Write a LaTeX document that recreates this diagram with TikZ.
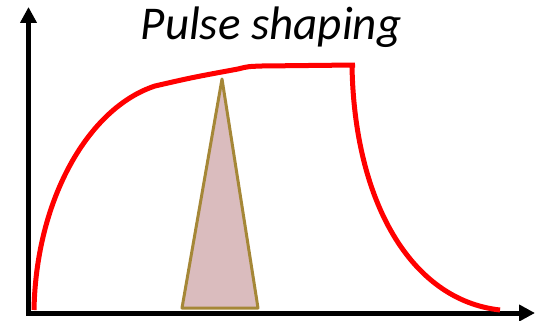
\documentclass[tikz,border=0pt]{standalone}
\usepackage{fontspec}
\newfontfamily\titlefont{Carlito}
\usetikzlibrary{arrows.meta}

\begin{document}
\begin{tikzpicture}[
    x=1pt, y=-1pt,
    axis/.style={line width=5pt, -{Triangle[length=16pt,width=16pt]}},
    pulse/.style={line width=5pt, red, line join=round},
    window/.style={draw={rgb,255:red,165;green,135;blue,55}, fill={rgb,255:red,218;green,188;blue,190}, line width=3pt, line join=round},
    font=\titlefont
]
\useasboundingbox (0,0) rectangle (535,321);
% Axes
\coordinate (origin) at (28.5,313);
\coordinate (ytop) at (28.5,7);
\coordinate (xend) at (535,313);
\draw[axis] ([yshift=-2.5pt]origin) -- (ytop);
\draw[axis] ([xshift=-2.5pt]origin) -- (xend);
% Title
\node[font=\titlefont\itshape\fontsize{47}{53}\selectfont] (title) at (271,27) {Pulse shaping};
% Sampling window
\coordinate (apex) at (222,79);
\coordinate (baseL) at (182,308);
\coordinate (baseR) at (258,308);
\draw[window] (apex) -- (baseR) -- (baseL) -- cycle;
% Shaped pulse
\draw[pulse] (34,310) .. controls (36,200) and (88,108) .. (155,86)
    .. controls (192,77.5) .. (238,69) .. controls (248,66.5) .. (262,66) -- (355,65)
    (352,65) .. controls (354,200) and (410,300) .. (500,310);
\end{tikzpicture}
\end{document}
